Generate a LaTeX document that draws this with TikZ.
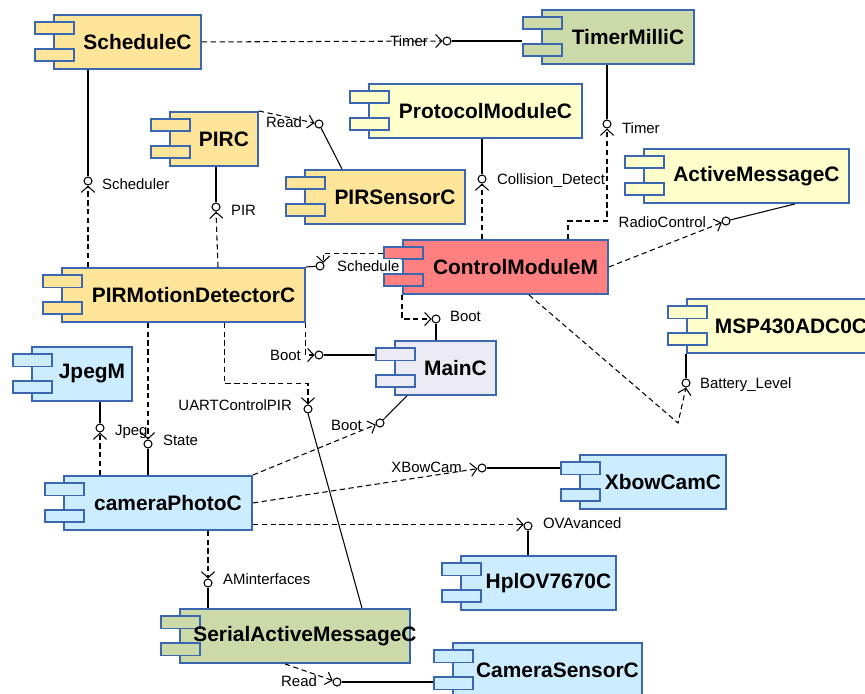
\documentclass[tikz,border=0pt]{standalone}
\usepackage{fontspec}
\setmainfont{Liberation Sans}
\usetikzlibrary{arrows.meta,calc}
\definecolor{compblue}{RGB}{59,103,177}
\definecolor{fillorange}{RGB}{255,229,153}
\definecolor{fillyellow}{RGB}{255,255,204}
\definecolor{fillgreen}{RGB}{204,218,170}
\definecolor{fillred}{RGB}{255,128,128}
\definecolor{filllav}{RGB}{236,234,242}
\definecolor{fillblue}{RGB}{204,236,255}
\tikzset{
	compbox/.style={draw=compblue, line width=1.1pt, minimum height=1.08cm, inner sep=0pt},
	comptab/.style={draw=compblue, line width=1.1pt, minimum width=0.78cm, minimum height=0.25cm, inner sep=0pt, anchor=north west},
	comptext/.style={font=\fontsize{11.9}{14}\selectfont\bfseries},
	ball/.style={circle, draw, fill=white, line width=0.6pt, minimum size=0.16cm, inner sep=0pt},
	prov/.style={draw, line width=0.6pt},
	req/.style={draw, line width=0.6pt, dash pattern=on 3pt off 2pt, -{Straight Barb[length=3.5pt,width=7.5pt]}},
	lbl/.style={font=\fontsize{8.5}{10}\selectfont, inner sep=1pt},
}
% component: name, left, top, width, fill, text
\newcommand\comp[6]{%
	\node[compbox, fill=#5, minimum width=#4*0.02cm, anchor=north west] (#1) at (#2,#3) {};
	\node[comptab, fill=#5] (#1-ta) at ([xshift=-0.38cm,yshift=-0.14cm]#1.north west) {};
	\node[comptab, fill=#5] (#1-tb) at ([xshift=-0.38cm,yshift=-0.68cm]#1.north west) {};
	\node[comptext] (#1-txt) at ([xshift=0.2cm]#1.center) {#6};
}

\begin{document}
\begin{tikzpicture}[x=0.02cm, y=-0.02cm]
			%%%%% START %%%%%
			\useasboundingbox (0,0) rectangle (865,693);
			\clip (0,0) rectangle (865,693);
			
			\comp{sched}{53}{14}{147}{fillorange}{ScheduleC}
			\comp{tmr}{541}{9}{152}{fillgreen}{TimerMilliC}
			\comp{proto}{368}{83}{213}{fillyellow}{ProtocolModuleC}
			\comp{pirc}{169}{111}{88}{fillorange}{PIRC}
			\comp{pirs}{304}{169}{160}{fillorange}{PIRSensorC}
			\comp{amsg}{643}{148}{205}{fillyellow}{ActiveMessageC}
			\comp{cm}{402}{239}{205}{fillred}{ControlModuleM}
			\comp{msp}{686}{298}{188}{fillyellow}{MSP430ADC0C}
			\comp{pmd}{61}{267}{243}{fillorange}{PIRMotionDetectorC}
			\comp{mainc}{394}{340}{101}{filllav}{MainC}
			\comp{jpeg}{31}{346}{100}{fillblue}{JpegM}
			\comp{cam}{63}{475}{188}{fillblue}{cameraPhotoC}
			\comp{xbow}{579}{454}{146}{fillblue}{XbowCamC}
			\comp{hpl}{460}{555}{155}{fillblue}{HplOV7670C}
			\comp{sam}{179}{608}{230}{fillgreen}{SerialActiveMessageC}
			\comp{csens}{452}{642}{189}{fillblue}{CameraSensorC}
			
			% interface balls
			\node[ball] (b-timer1) at (447,41) {};
			\node[ball] (b-sched) at (88,181) {};
			\node[ball] (b-pir) at (216,207) {};
			\node[ball] (b-read1) at (319,124) {};
			\node[ball] (b-coll) at (482,179) {};
			\node[ball] (b-timer2) at (607,124) {};
			\node[ball] (b-radio) at (726,221) {};
			\node[ball] (b-schedule) at (320,266) {};
			\node[ball] (b-boot1) at (436,319) {};
			\node[ball] (b-boot2) at (319,355) {};
			\node[ball] (b-batt) at (686,383) {};
			\node[ball] (b-uart) at (308,409) {};
			\node[ball] (b-boot3) at (380,423) {};
			\node[ball] (b-jpeg) at (100,428) {};
			\node[ball] (b-state) at (148,444) {};
			\node[ball] (b-xbow) at (482,468) {};
			\node[ball] (b-ov) at (528,526) {};
			\node[ball] (b-am) at (208,583) {};
			\node[ball] (b-read2) at (337,682) {};
			\coordinate (battbend) at (678,423);
			
			% provided
			\draw[prov] (b-timer1.east) -- (b-timer1.east -| tmr-ta.west);
			\draw[prov] (b-sched |- sched.south) -- (b-sched.north);
			\draw[prov] (b-pir |- pirc.south) -- (b-pir.north);
			\draw[prov] (b-read1) -- ([xshift=0.76cm]pirs.north west);
			\draw[prov] (b-coll |- proto.south) -- (b-coll.north);
			\draw[prov] (b-timer2 |- tmr.south) -- (b-timer2.north);
			\draw[prov] ([xshift=3.04cm]amsg.south west) -- (b-radio);
			\draw[prov] (pmd.north east) -- (b-schedule);
			\draw[prov] (b-boot1.south) -- (b-boot1 |- mainc.north);
			\draw[prov] (b-boot2.east) -- (b-boot2 -| mainc-ta.west);
			\draw[prov] (b-batt |- msp.south) -- (b-batt.north);
			\draw[prov] (b-uart.south) -- ([xshift=3.66cm]sam.north west);
			\draw[prov] ([xshift=0.26cm]mainc.south west) -- (b-boot3);
			\draw[prov] (b-jpeg |- jpeg.south) -- (b-jpeg.north);
			\draw[prov] (b-state.south) -- (b-state |- cam.north);
			\draw[prov] (b-xbow.east) -- (b-xbow -| xbow-ta.west);
			\draw[prov] (b-ov.south) -- (b-ov |- hpl.north);
			\draw[prov] (b-am.south) -- (b-am |- sam.north);
			\draw[prov] (b-read2.east) -- (b-read2 -| csens-tb.west);
			
			% required
			\draw[req] (sched.east) -- (b-timer1.west);
			\draw[req] (b-sched |- pmd.north) -- (b-sched.south);
			\draw[req] ([xshift=0.04cm]b-pir |- pmd.north) -- (b-pir.south);
			\draw[req] (pirc.north east) -- (b-read1);
			\draw[req] (b-coll |- cm.north) -- (b-coll.south);
			\draw[req] ([xshift=3.32cm]cm.north west) -- ++(0,-18) -| (b-timer2.south);
			\draw[req] (cm.east) -- (b-radio);
			\draw[req] (cm-ta.west) -| (b-schedule.north east);
			\draw[req] (cm.south west) |- (b-boot1.west);
			\draw[req] (pmd.south east) |- (b-boot2.west);
			\draw[req] ([xshift=2.54cm]cm.south west) -- (battbend) -- (b-batt.south);
			\draw[req] ([xshift=3.28cm]pmd.south west) -- ++(0,61) -| (b-uart.north);
			\draw[req] (cam.north east) -- (b-boot3);
			\draw[req] (b-jpeg |- cam.north) -- (b-jpeg.south);
			\draw[req] (b-state |- pmd.south) -- (b-state.north);
			\draw[req] (cam.east) -- (b-xbow);
			\draw[req] (b-ov.160 -| cam.east) -- (b-ov.160);
			\draw[req] (b-am |- cam.south) -- (b-am.north);
			\draw[req] ([xshift=2.12cm]sam.south west) -- (b-read2);
			
			% interface names
			\node[lbl] (l-timer1) at (409,41) {Timer};
			\node[lbl, anchor=west] (l-sched) at (100,184) {Scheduler};
			\node[lbl, anchor=west] (l-pir) at (229,210) {PIR};
			\node[lbl, anchor=east] (l-read1) at (304,122) {Read};
			\node[lbl, anchor=west] (l-coll) at (495,181) {Collision\_Detect};
			\node[lbl, anchor=west] (l-timer2) at (620,128) {Timer};
			\node[lbl, anchor=east] (l-radio) at (708,222) {RadioControl};
			\node[lbl, anchor=west, fill=white] (l-schedule) at (335,266) {Schedule};
			\node[lbl, anchor=west] (l-boot1) at (448,316) {Boot};
			\node[lbl, anchor=east] (l-boot2) at (303,355) {Boot};
			\node[lbl, anchor=west] (l-batt) at (698,385) {Battery\_Level};
			\node[lbl, anchor=east] (l-uart) at (294,405) {UARTControlPIR};
			\node[lbl, anchor=east] (l-boot3) at (364,425) {Boot};
			\node[lbl, anchor=west] (l-jpeg) at (113,432) {Jpeg};
			\node[lbl, anchor=west] (l-state) at (161,440) {State};
			\node[lbl, anchor=east] (l-xbow) at (464,467) {XBowCam};
			\node[lbl, anchor=west] (l-ov) at (541,523) {OVAvanced};
			\node[lbl, anchor=west] (l-am) at (221,579) {AMinterfaces};
			\node[lbl, anchor=east] (l-read2) at (319,681) {Read};
			
			%%%%% END %%%%%
\end{tikzpicture}
\end{document}
